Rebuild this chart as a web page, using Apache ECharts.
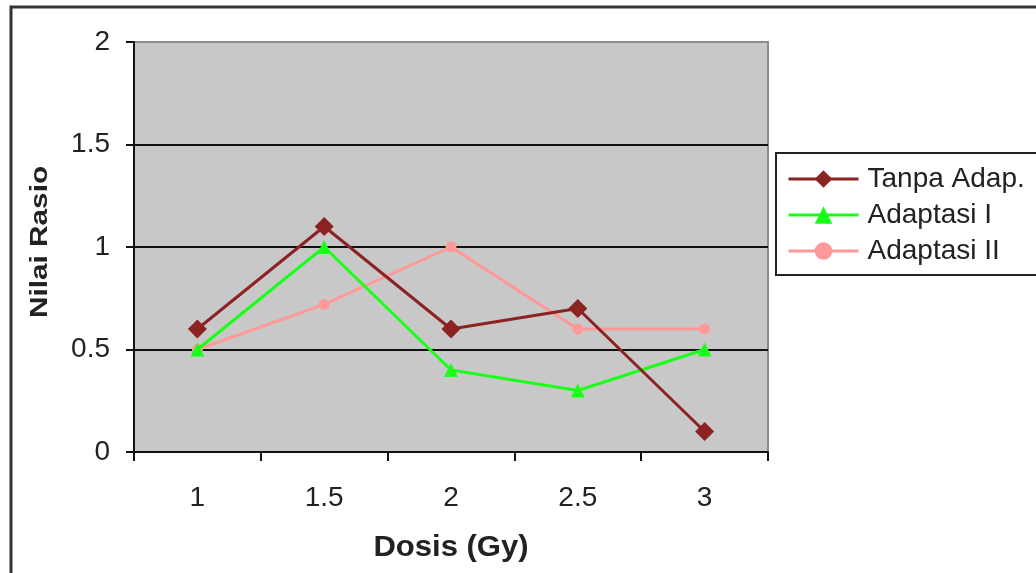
<!DOCTYPE html>
<html>
<head>
<meta charset="utf-8">
<script src="https://cdn.jsdelivr.net/npm/echarts@6/dist/echarts.min.js"></script>
<style>html,body{margin:0;padding:0;background:#fff}#c{width:1036px;height:573px}</style>
</head>
<body>
<div id="c"></div>
<script>
const categories = ['1', '1.5', '2', '2.5', '3'];
const tanpaAdap = [0.6, 1.1, 0.6, 0.7, 0.1];
const adaptasiI = [0.5, 1.0, 0.4, 0.3, 0.5];
const adaptasiII = [0.5, 0.72, 1.0, 0.6, 0.6];
const seriesNames = ['Tanpa Adap.', 'Adaptasi I', 'Adaptasi II'];
const yTicks = { min: 0, max: 2, interval: 0.5 };
const xAxisName = 'Dosis (Gy)';
const yAxisName = 'Nilai Rasio';

const font = '"Liberation Sans", Arial, sans-serif';
const chart = echarts.init(document.getElementById('c'));
chart.setOption({
  animation: false,
  backgroundColor: '#fff',
  graphic: [
    { type: 'rect', shape: { x: 11, y: 7, width: 1100, height: 700 },
      style: { fill: 'none', stroke: '#333', lineWidth: 3 }, z: -1 },
    { type: 'text', x: 40, y: 242, rotation: Math.PI / 2, scaleX: 1.24,
      style: { text: yAxisName, font: 'bold 24px ' + font, fill: '#222', textAlign: 'center', textVerticalAlign: 'middle' } },
    { type: 'text', x: 451, y: 548, scaleX: 1.07,
      style: { text: xAxisName, font: 'bold 29px ' + font, fill: '#222', textAlign: 'center', textVerticalAlign: 'middle' } }
  ],
  grid: {
    left: 134, right: 268, top: 42, bottom: 121,
    show: true, backgroundColor: '#c8c8c8', borderColor: '#8a8a8a', borderWidth: 2
  },
  legend: {
    orient: 'vertical', left: 776, top: 153,
    padding: [12, 30, 10, 11],
    borderColor: '#222', borderWidth: 2, backgroundColor: '#fff',
    itemWidth: 70, itemHeight: 22, itemGap: 8,
    lineStyle: { width: 3 },
    textStyle: { fontFamily: font, fontSize: 28, lineHeight: 22, color: '#222', padding: [0, 0, 0, 4] },
    data: seriesNames
  },
  xAxis: {
    type: 'category', data: categories, boundaryGap: true,
    axisLine: { lineStyle: { color: '#111', width: 2 } },
    axisTick: { show: true, length: 9, alignWithLabel: false, lineStyle: { color: '#111', width: 2 } },
    axisLabel: { fontFamily: font, fontSize: 28, color: '#222', margin: 32 },
    splitLine: { show: false }
  },
  yAxis: {
    type: 'value', min: yTicks.min, max: yTicks.max, interval: yTicks.interval,
    axisLine: { show: true, lineStyle: { color: '#111', width: 2 } },
    axisTick: { show: true, length: 8, lineStyle: { color: '#111', width: 2 } },
    axisLabel: { fontFamily: font, fontSize: 28, color: '#222', margin: 24, formatter: v => String(v) },
    splitLine: { show: true, lineStyle: { color: ['#111', '#111', '#111', '#111', '#8a8a8a'], width: 2 } }
  },
  series: [
    { name: seriesNames[0], type: 'line', data: tanpaAdap, symbol: 'diamond', symbolSize: 19,
      itemStyle: { color: '#8b2323' }, lineStyle: { color: '#8b2323', width: 3 }, z: 4 },
    { name: seriesNames[1], type: 'line', data: adaptasiI, symbol: 'triangle', symbolSize: 14,
      itemStyle: { color: '#1aff1a' }, lineStyle: { color: '#1aff1a', width: 3 }, z: 3 },
    { name: seriesNames[2], type: 'line', data: adaptasiII, symbol: 'circle', symbolSize: 11,
      itemStyle: { color: '#ff9999' }, lineStyle: { color: '#ff9999', width: 3 }, z: 2 }
  ]
});
</script>
</body>
</html>
